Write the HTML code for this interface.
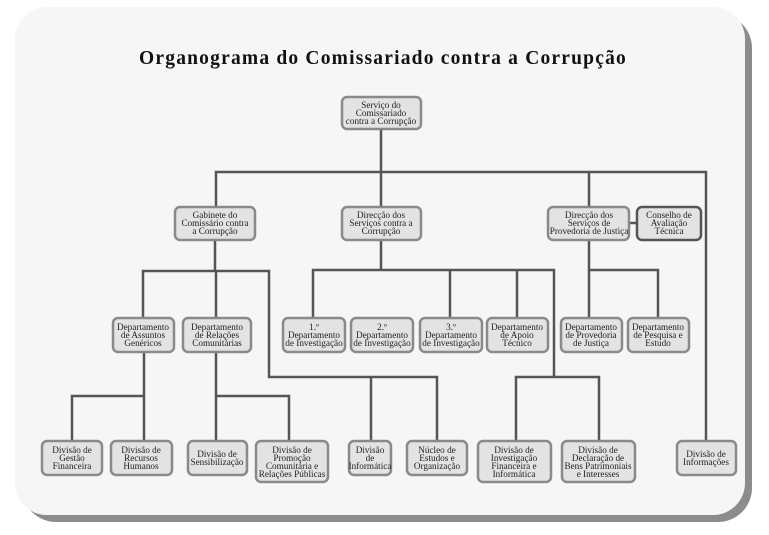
<!DOCTYPE html>
<html><head><meta charset="utf-8"><style>
html,body{margin:0;padding:0;width:769px;height:535px;background:#fff;overflow:hidden}
svg{display:block}
text{font-family:"Liberation Serif",serif;font-size:9.2px;fill:#222}
</style></head><body>
<svg width="769" height="535" viewBox="0 0 769 535" xmlns="http://www.w3.org/2000/svg">
<rect x="22" y="14" width="730" height="508" rx="34" fill="#8c8c8c"/>
<rect x="15" y="7" width="730" height="508" rx="32" fill="#f6f6f6"/>
<text x="383" y="64" text-anchor="middle" style="font-size:19.5px;font-weight:bold;fill:#111;letter-spacing:1.2px">Organograma do Comissariado contra a Corrupção</text>
<g stroke="#555" stroke-width="2.5" fill="none">
<path d="M381 129V207M216 207V172H706V440M589 172V207M629 223H637"/>
<path d="M215 240V271M143 318V271H269V377H437V440M216 271V318M371 377V440"/>
<path d="M381 240V270M313 318V270H554V377M450 270V318M517 270V318M516 440V377H599V440"/>
<path d="M589 240V270H658V318M589 270V318"/>
<path d="M144 352V440M144 396H72V440M216 352V440M216 396H289V440"/>
</g>
<g fill="#e3e3e3" stroke="#8a8a8a" stroke-width="2.5">
<rect x="342" y="97" width="79" height="32" rx="5"/>
<rect x="175" y="207" width="80" height="33" rx="5"/>
<rect x="342" y="207" width="79" height="33" rx="5"/>
<rect x="548" y="207" width="81" height="33" rx="5"/>
<rect x="637" y="207" width="64" height="33" rx="5" stroke="#555"/>
<rect x="113" y="318" width="61" height="34" rx="5"/>
<rect x="183" y="318" width="68" height="34" rx="5"/>
<rect x="283" y="318" width="62" height="34" rx="5"/>
<rect x="351" y="318" width="62" height="34" rx="5"/>
<rect x="420" y="318" width="62" height="34" rx="5"/>
<rect x="487" y="318" width="61" height="34" rx="5"/>
<rect x="561" y="318" width="61" height="34" rx="5"/>
<rect x="628" y="318" width="61" height="34" rx="5"/>
<rect x="42" y="441" width="60" height="34" rx="5"/>
<rect x="111" y="441" width="61" height="34" rx="5"/>
<rect x="188" y="441" width="59" height="34" rx="5"/>
<rect x="256" y="441" width="72" height="41" rx="5"/>
<rect x="349" y="441" width="42" height="34" rx="5"/>
<rect x="407" y="441" width="60" height="34" rx="5"/>
<rect x="478" y="441" width="73" height="41" rx="5"/>
<rect x="562" y="441" width="73" height="41" rx="5"/>
<rect x="677" y="441" width="59" height="34" rx="5"/>
</g>
<g text-anchor="middle">
<text x="381" y="108">Serviço do</text><text x="381" y="116">Comissariado</text><text x="381" y="124">contra a Corrupção</text>
<text x="215" y="218">Gabinete do</text><text x="215" y="226">Comissário contra</text><text x="215" y="234">a Corrupção</text>
<text x="381" y="218">Direcção dos</text><text x="381" y="226">Serviços contra a</text><text x="381" y="234">Corrupção</text>
<text x="589" y="218">Direcção dos</text><text x="589" y="226">Serviços de</text><text x="589" y="234">Provedoria de Justiça</text>
<text x="669" y="218">Conselho de</text><text x="669" y="226">Avaliação</text><text x="669" y="234">Técnica</text>
<text x="143" y="330">Departamento</text><text x="143" y="338">de Assuntos</text><text x="143" y="346">Genéricos</text>
<text x="217" y="330">Departamento</text><text x="217" y="338">de Relações</text><text x="217" y="346">Comunitárias</text>
<text x="314" y="330">1.º</text><text x="314" y="338">Departamento</text><text x="314" y="346">de Investigação</text>
<text x="382" y="330">2.º</text><text x="382" y="338">Departamento</text><text x="382" y="346">de Investigação</text>
<text x="451" y="330">3.º</text><text x="451" y="338">Departamento</text><text x="451" y="346">de Investigação</text>
<text x="517" y="330">Departamento</text><text x="517" y="338">de Apoio</text><text x="517" y="346">Técnico</text>
<text x="591" y="330">Departamento</text><text x="591" y="338">de Provedoria</text><text x="591" y="346">de Justiça</text>
<text x="658" y="330">Departamento</text><text x="658" y="338">de Pesquisa e</text><text x="658" y="346">Estudo</text>
<text x="72" y="453">Divisão de</text><text x="72" y="461">Gestão</text><text x="72" y="469">Financeira</text>
<text x="141" y="453">Divisão de</text><text x="141" y="461">Recursos</text><text x="141" y="469">Humanos</text>
<text x="217" y="457">Divisão de</text><text x="217" y="465">Sensibilização</text>
<text x="292" y="453">Divisão de</text><text x="292" y="461">Promoção</text><text x="292" y="469">Comunitária e</text><text x="292" y="477">Relações Públicas</text>
<text x="370" y="453">Divisão</text><text x="370" y="461">de</text><text x="370" y="469">Informática</text>
<text x="437" y="453">Núcleo de</text><text x="437" y="461">Estudos e</text><text x="437" y="469">Organização</text>
<text x="514" y="453">Divisão de</text><text x="514" y="461">Investigação</text><text x="514" y="469">Financeira e</text><text x="514" y="477">Informática</text>
<text x="598" y="453">Divisão de</text><text x="598" y="461">Declaração de</text><text x="598" y="469">Bens Patrimoniais</text><text x="598" y="477">e Interesses</text>
<text x="706" y="457">Divisão de</text><text x="706" y="465">Informações</text>
</g>
</svg>
</body></html>
